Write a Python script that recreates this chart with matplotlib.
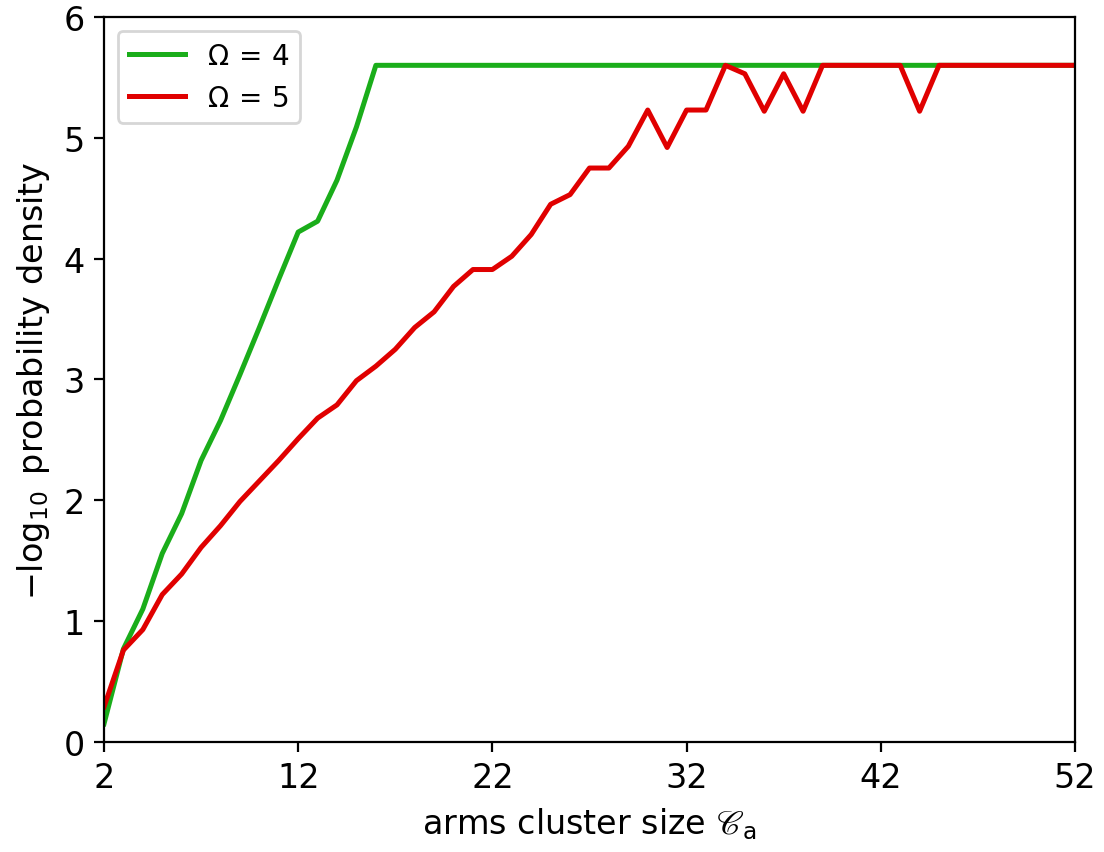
import matplotlib
matplotlib.use("Agg")
import matplotlib.pyplot as plt

cluster_size = list(range(2, 53))

omega4 = [0.15, 0.77, 1.10, 1.56, 1.89, 2.33, 2.66, 3.04, 3.43, 3.83, 4.22,
          4.31, 4.65, 5.09] + [5.60] * 37

omega5 = [0.29, 0.76, 0.93, 1.22, 1.39, 1.61, 1.79, 1.99, 2.16, 2.33, 2.51,
          2.68, 2.79, 2.99, 3.11, 3.25, 3.43, 3.56, 3.77, 3.91, 3.91, 4.02,
          4.20, 4.45, 4.53, 4.75, 4.75, 4.93, 5.23, 4.92, 5.23, 5.23, 5.60,
          5.53, 5.22, 5.53, 5.22, 5.60, 5.60, 5.60, 5.60, 5.60, 5.22, 5.60,
          5.60, 5.60, 5.60, 5.60, 5.60, 5.60, 5.60]

labels = [r"$\Omega\,=\,4$", r"$\Omega\,=\,5$"]
colors = ["#1aad1a", "#e00000"]

xticks = [2, 12, 22, 32, 42, 52]
yticks = [0, 1, 2, 3, 4, 5, 6]

plt.rcParams["mathtext.fontset"] = "dejavusans"
plt.rcParams["font.size"] = 12

fig = plt.figure(figsize=(5.52, 4.265), dpi=200)
ax = fig.add_axes([0.0942, 0.129, 0.9737 - 0.0942, 0.9789 - 0.129])

ax.plot(cluster_size, omega4, color=colors[0], lw=1.8, label=labels[0])
ax.plot(cluster_size, omega5, color=colors[1], lw=1.8, label=labels[1])

ax.set_xlim(2, 52)
ax.set_ylim(0, 6)
ax.set_xticks(xticks)
ax.set_yticks(yticks)
ax.set_xlabel(r"arms cluster size $\mathscr{C}_{\mathrm{a}}$")
ax.set_ylabel(r"$-\log_{10}$ probability density")
ax.legend(loc="upper left", fontsize=10)

fig.savefig("out.png", dpi=200)
